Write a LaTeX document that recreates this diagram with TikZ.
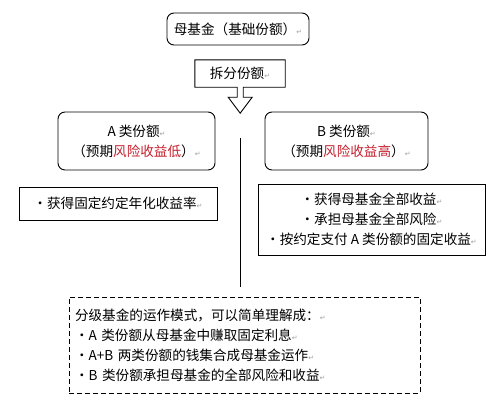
\documentclass[tikz,border=0pt]{standalone}
\usepackage{fontspec}
\setmainfont{Noto Sans CJK SC}
\newfontfamily\dejavu{DejaVu Sans}
\usepackage{xcolor}
\definecolor{riskred}{HTML}{C41E2C}
\definecolor{markgray}{HTML}{A0A0A0}
\newcommand{\retm}{{\dejavu\fontsize{7}{7}\selectfont\textcolor{markgray}{↵}}}
\newcommand{\risk}[1]{\textcolor{riskred}{#1}}

\begin{document}
\begin{tikzpicture}[
  x=1pt,y=-1pt,
  every node/.style={font=\fontsize{13.6}{20}\selectfont,inner sep=0pt},
  rbox/.style={draw,rounded corners=7pt,line width=0.9pt,align=center},
  sbox/.style={draw,line width=0.9pt,align=center},
  conn/.style={line width=0.9pt}
]
\useasboundingbox (0,0) rectangle (502,407);
\node[rbox,minimum width=142pt,minimum height=32pt] (mother) at (238,29) {母基金（基础份额）\retm};
\node[minimum width=90pt,minimum height=27pt] (split) at (240,73.5) {拆分份额\retm};
\draw[conn,line join=miter] (split.north west) -- (split.north east) -- (split.south east)
  -- ++(-42,0) -- ++(0,10) -- ++(9,0) -- ++(-12,16) -- ++(-12,-16) -- ++(9,0) -- ++(0,-10)
  -- (split.south west) -- cycle;
\node[rbox,minimum width=157pt,minimum height=58pt] (clsA) at (136.5,141) {A 类份额\retm\\（预期\risk{风险收益低}）\retm};
\node[rbox,minimum width=163pt,minimum height=58pt] (clsB) at (346.5,141) {B 类份额\retm\\（预期\risk{风险收益高}）\retm};
\coordinate (stem) at (240,138);
\coordinate (stemend) at (240,287);
\draw[conn] (stem) -- (stemend);
\node[sbox,minimum width=198pt,minimum height=33pt] (gainA) at (118,203.5) {·获得固定约定年化收益率\retm};
\node[sbox,minimum width=227pt,minimum height=71pt] (gainB) at (371.5,219.5) {·获得母基金全部收益\retm\\·承担母基金全部风险\retm\\·按约定支付 A 类份额的固定收益\retm};
\node[draw,dash pattern=on 5pt off 3pt,line width=0.9pt,minimum width=351pt,minimum height=96pt,
  align=left,text width=339pt,inner sep=6pt] (summary) at (244.5,345)
  {分级基金的运作模式，可以简单理解成：\retm\\
   ·A 类份额从母基金中赚取固定利息\retm\\
   ·A+B 两类份额的钱集合成母基金运作\retm\\
   ·B 类份额承担母基金的全部风险和收益\retm};
\end{tikzpicture}
\end{document}
